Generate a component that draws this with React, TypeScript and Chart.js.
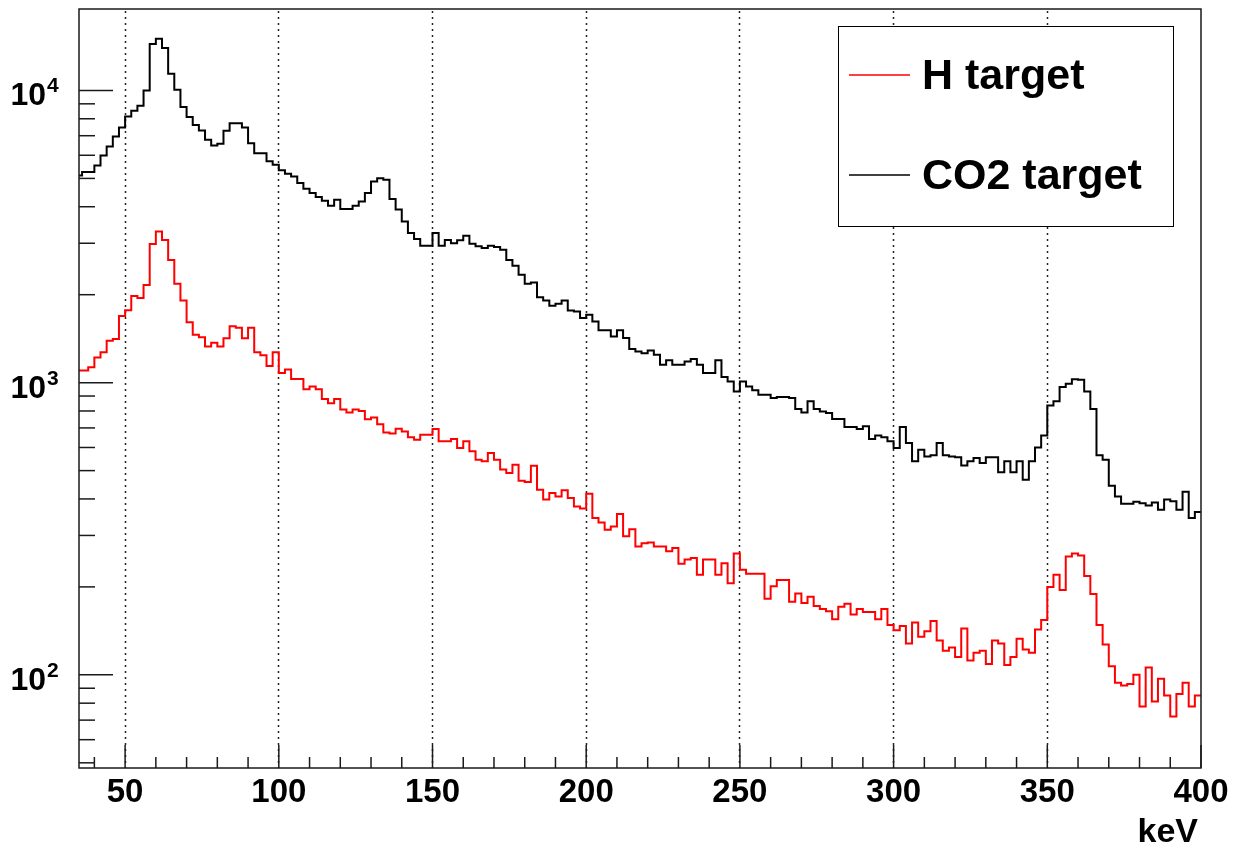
import React, { useEffect, useRef } from 'react';
import { Chart, registerables } from 'chart.js';

Chart.register(...registerables);

const FONT = '"Liberation Sans", Arial, Helvetica, sans-serif';

// Histogram binning (keV): first bin [34,36) is partly hidden by the axis range
const FIRST_EDGE = 34;
const BIN_WIDTH = 2;
const X_MIN = 35;
const X_MAX = 400;
const Y_MIN = 48;
const Y_MAX = 19000;

const seriesLabels = ['H target', 'CO2 target'];
const seriesColors = ['#ff0000', '#000000'];
const xAxisTitle = 'keV';

const xMajorTicks = [50, 100, 150, 200, 250, 300, 350, 400];
const xTickLabels = ['50', '100', '150', '200', '250', '300', '350', '400'];
const yMajorTicks = [100, 1000, 10000];
const yTickBase = '10';
const yTickExponents = ['2', '3', '4'];

// Counts per 2 keV bin, H target (red)
const hTarget = [
  1100, 1100, 1130, 1220, 1270, 1390, 1410, 1690, 1770, 1980,
  1950, 2160, 2980, 3290, 3080, 2630, 2180, 1910, 1610, 1460,
  1430, 1330, 1370, 1330, 1420, 1560, 1540, 1420, 1540, 1270,
  1240, 1140, 1270, 1080, 1110, 1030, 1030, 950, 970, 950,
  880, 850, 880, 810, 790, 810, 800, 750, 760, 720,
  675, 670, 695, 681, 651, 638, 663, 663, 694, 630,
  630, 641, 597, 630, 582, 545, 538, 574, 545, 504,
  491, 524, 462, 457, 520, 430, 398, 419, 408, 428,
  403, 377, 371, 417, 344, 332, 314, 322, 355, 298,
  315, 275, 282, 284, 275, 275, 265, 272, 240, 248,
  251, 220, 248, 248, 220, 241, 206, 260, 229, 222,
  222, 222, 182, 201, 211, 211, 178, 190, 176, 185,
  172, 168, 165, 155, 171, 175, 161, 168, 164, 164,
  155, 168, 148, 142, 147, 128, 151, 135, 141, 153,
  131, 121, 124, 115, 144, 112, 119, 121, 109, 131,
  128, 108, 115, 133, 122, 119, 143, 154, 200, 220,
  195, 254, 260, 256, 218, 189, 148, 127, 107, 94,
  92, 93, 100, 78, 106, 81, 97, 85, 72, 86,
  94, 78, 85,
];

// Counts per 2 keV bin, CO2 target (black)
const co2Target = [
  5120, 5255, 5255, 5540, 5990, 6430, 6960, 7470, 8150, 8520,
  8860, 10000, 14410, 15030, 13960, 11410, 10050, 8770, 8110, 7610,
  7300, 6780, 6480, 6570, 7280, 7730, 7730, 7470, 6600, 6100,
  6100, 5720, 5570, 5330, 5190, 5080, 4820, 4610, 4460, 4320,
  4190, 4030, 4230, 3930, 3930, 4030, 4170, 4455, 4880, 5010,
  4950, 4250, 3910, 3560, 3250, 3100, 2940, 2940, 3250, 2940,
  3080, 3000, 3070, 3180, 2990, 2930, 2890, 2940, 2910, 2850,
  2630, 2510, 2340, 2180, 2200, 1960, 1912, 1834, 1863, 1912,
  1767, 1753, 1663, 1708, 1620, 1510, 1510, 1440, 1510, 1421,
  1303, 1279, 1262, 1289, 1246, 1152, 1192, 1152, 1152, 1182,
  1204, 1152, 1078, 1078, 1192, 1045, 1010, 933, 1010, 971,
  941, 909, 909, 886, 893, 893, 886, 812, 791, 863,
  812, 797, 787, 751, 751, 705, 705, 694, 709, 641,
  660, 651, 630, 597, 705, 621, 538, 589, 559, 564,
  621, 564, 559, 556, 521, 538, 552, 531, 556, 556,
  494, 538, 494, 538, 465, 538, 600, 660, 836, 863,
  966, 992, 1028, 1023, 933, 812, 564, 545, 444, 408,
  385, 385, 391, 387, 380, 389, 367, 398, 393, 367,
  423, 344, 361,
];

const toSteps = (vals: number[]) => {
  const pts = vals.map((v, i) => ({ x: FIRST_EDGE + i * BIN_WIDTH, y: v }));
  pts.push({ x: FIRST_EDGE + vals.length * BIN_WIDTH, y: vals[vals.length - 1] });
  return pts;
};

const rootStylePlugin = {
  id: 'rootStyle',
  beforeDatasetsDraw(chart: any) {
    const { ctx, chartArea: a } = chart;
    const xs = chart.scales.x;
    ctx.save();
    ctx.strokeStyle = '#222';
    ctx.lineWidth = 1.5;
    ctx.setLineDash([2, 4]);
    for (const v of xMajorTicks) {
      if (v >= X_MAX) continue;
      const px = Math.floor(xs.getPixelForValue(v)) + 0.5;
      ctx.beginPath();
      ctx.moveTo(px, a.top + 2);
      ctx.lineTo(px, a.bottom);
      ctx.stroke();
    }
    ctx.restore();
  },
  afterDatasetsDraw(chart: any) {
    const { ctx, chartArea: a } = chart;
    const xs = chart.scales.x;
    const ys = chart.scales.y;
    ctx.save();
    ctx.setLineDash([]);
    ctx.strokeStyle = '#1a1a1a';
    ctx.lineWidth = 1.5;
    const seg = (x1: number, y1: number, x2: number, y2: number) => {
      ctx.beginPath();
      ctx.moveTo(x1, y1);
      ctx.lineTo(x2, y2);
      ctx.stroke();
    };
    // y ticks (inside the frame)
    for (const v of yMajorTicks) {
      const py = ys.getPixelForValue(v);
      seg(a.left, py, a.left + 34, py);
    }
    for (const dec of [10, 100, 1000, 10000]) {
      for (let m = 2; m <= 9; m++) {
        const v = m * dec;
        if (v < Y_MIN || v > Y_MAX) continue;
        const py = ys.getPixelForValue(v);
        seg(a.left, py, a.left + 16, py);
      }
    }
    // x ticks
    for (const v of xMajorTicks) {
      const px = xs.getPixelForValue(v);
      seg(px, a.bottom, px, a.bottom - 23);
    }
    for (let v = 40; v < X_MAX; v += 10) {
      if (v % 50 === 0) continue;
      const px = xs.getPixelForValue(v);
      seg(px, a.bottom, px, a.bottom - 11);
    }
    // frame
    ctx.strokeRect(a.left, a.top, a.right - a.left, a.bottom - a.top);

    // x tick labels
    ctx.fillStyle = '#000';
    ctx.font = `bold 33px ${FONT}`;
    ctx.textAlign = 'center';
    ctx.textBaseline = 'alphabetic';
    xMajorTicks.forEach((v, i) => {
      ctx.fillText(xTickLabels[i], xs.getPixelForValue(v), a.bottom + 34);
    });
    // x axis title
    ctx.textAlign = 'right';
    ctx.font = `bold 34px ${FONT}`;
    ctx.fillText(xAxisTitle, a.right - 3, a.bottom + 74);

    // y tick labels 10^n
    yMajorTicks.forEach((v, i) => {
      const py = ys.getPixelForValue(v);
      ctx.textAlign = 'right';
      ctx.font = `bold 32px ${FONT}`;
      ctx.fillText(yTickBase, a.left - 33, py + 15);
      ctx.textAlign = 'left';
      ctx.font = `bold 21px ${FONT}`;
      ctx.fillText(yTickExponents[i], a.left - 32, py + 2);
    });

    // legend
    const bx = 838.5, by = 26.5, bw = 335, bh = 200;
    ctx.fillStyle = '#fff';
    ctx.fillRect(bx, by, bw, bh);
    ctx.strokeStyle = '#000';
    ctx.lineWidth = 1;
    ctx.strokeRect(bx, by, bw, bh);
    chart.data.datasets.forEach((ds: any, i: number) => {
      const ly = 75 + i * 100;
      ctx.strokeStyle = ds.borderColor;
      ctx.lineWidth = 1.5;
      seg(849, ly, 910, ly);
      ctx.fillStyle = '#000';
      ctx.textAlign = 'left';
      ctx.font = `bold 43px ${FONT}`;
      ctx.fillText(ds.label, 922, ly + 14);
    });
    ctx.restore();
  },
};

export default function App() {
  const canvasRef = useRef<HTMLCanvasElement | null>(null);

  useEffect(() => {
    const canvas = canvasRef.current;
    if (!canvas) return;
    const series = [hTarget, co2Target];
    const chart = new Chart(canvas, {
      type: 'line',
      data: {
        datasets: series.map((vals, i) => ({
          label: seriesLabels[i],
          data: toSteps(vals),
          borderColor: seriesColors[i],
          backgroundColor: seriesColors[i],
          borderWidth: 2,
          pointRadius: 0,
          stepped: true,
          fill: false,
          tension: 0,
          clip: 0,
          borderJoinStyle: 'miter',
        })) as any,
      },
      options: {
        animation: false,
        responsive: false,
        maintainAspectRatio: false,
        devicePixelRatio: 1,
        layout: { padding: { left: 79, top: 9, right: 32, bottom: 79 } },
        scales: {
          x: { type: 'linear', min: X_MIN, max: X_MAX, display: false },
          y: { type: 'logarithmic', min: Y_MIN, max: Y_MAX, display: false },
        },
        plugins: {
          legend: { display: false },
          tooltip: { enabled: false },
        },
        events: [],
      },
      plugins: [rootStylePlugin],
    });
    return () => chart.destroy();
  }, []);

  return (
    <div style={{ position: 'fixed', left: 0, top: 0, width: 1233, height: 847, background: '#fff' }}>
      <canvas ref={canvasRef} width={1233} height={847} />
    </div>
  );
}
